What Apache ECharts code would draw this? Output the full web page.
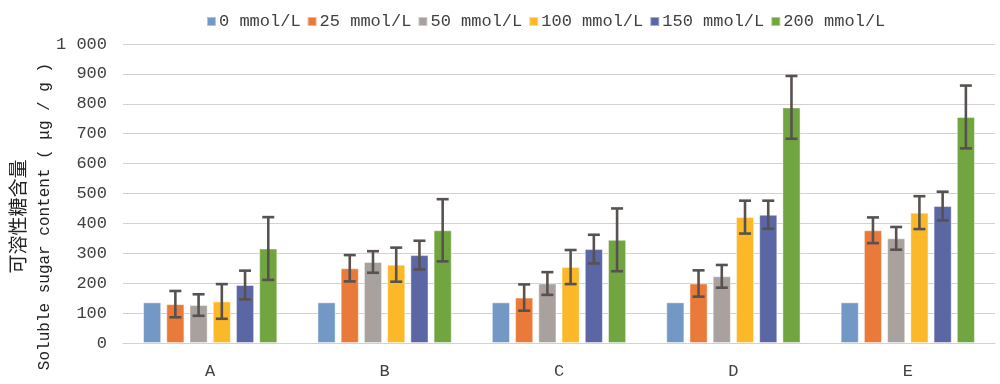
<!DOCTYPE html>
<html><head><meta charset="utf-8">
<script src="https://cdn.jsdelivr.net/npm/echarts@6/dist/echarts.min.js"></script>
<style>html,body{margin:0;padding:0;background:#fff}#c{width:1000px;height:384px}</style>
</head><body><div id="c"></div>
<script>
const categories = ['A','B','C','D','E'];
const seriesNames = ['0 mmol/L','25 mmol/L','50 mmol/L','100 mmol/L','150 mmol/L','200 mmol/L'];
const v0   = [136,136,136,136,136];
const v25  = [130,250,152,199,377];
const v50  = [127,271,199,223,350];
const v100 = [139,262,254,421,436];
const v150 = [194,294,314,429,458];
const v200 = [316,377,345,788,756];
const e0   = [null,null,null,null,null];
const e25  = [44,44,44,44,43];
const e50  = [36,36,38,38,38];
const e100 = [58,57,57,55,55];
const e150 = [48,48,48,47,48];
const e200 = [105,104,105,105,105];
const colors = ['#7398C6','#E97A3A','#A8A19E','#FBB829','#5B67A5','#71A540'];

const values = [v0,v25,v50,v100,v150,v200];
const errors = [e0,e25,e50,e100,e150,e200];
const CAT_GAP = 0.23, BAR_GAP = 0.28, N = 6;
const FONT = '"Liberation Mono", "Noto Sans CJK SC", monospace';

const chart = echarts.init(document.getElementById('c'));
const series = [];
values.forEach((vals, i) => {
  series.push({
    name: seriesNames[i], type: 'bar', data: vals,
    barGap: (BAR_GAP*100)+'%', barCategoryGap: (CAT_GAP*100)+'%',
    itemStyle: {color: colors[i], borderColor: 'rgba(255,255,255,0.45)', borderWidth: 1},
    emphasis: {disabled: true}, z: 2
  });
});
values.forEach((vals, i) => {
  if (i === 0) return;
  const data = vals.map((v, k) => [k, v - errors[i][k], v + errors[i][k]]);
  series.push({
    type: 'custom', name: seriesNames[i] + ' err', z: 5, silent: true,
    encode: {x: 0, y: [1, 2]},
    renderItem: function (params, api) {
      const k = api.value(0);
      const band = api.size([1, 0])[0];
      const bw = band * (1 - CAT_GAP) / (N + (N - 1) * BAR_GAP);
      const groupW = bw * N + bw * BAR_GAP * (N - 1);
      const off = -groupW / 2 + i * bw * (1 + BAR_GAP) + bw / 2;
      const lo = api.coord([k, api.value(1)]);
      const hi = api.coord([k, api.value(2)]);
      const x = lo[0] + off;
      const cap = 6;
      const st = {stroke: '#57524f', lineWidth: 2.6};
      return {type: 'group', children: [
        {type: 'line', shape: {x1: x, y1: lo[1], x2: x, y2: hi[1]}, style: st},
        {type: 'line', shape: {x1: x - cap, y1: lo[1], x2: x + cap, y2: lo[1]}, style: st},
        {type: 'line', shape: {x1: x - cap, y1: hi[1], x2: x + cap, y2: hi[1]}, style: st}
      ]};
    },
    data: data
  });
});

chart.setOption({
  animation: false,
  color: colors,
  legend: {
    data: seriesNames, top: 8, left: 201, itemWidth: 9, itemHeight: 9, itemGap: 6,
    icon: 'rect',
    textStyle: {fontFamily: FONT, fontSize: 17, color: '#404040', padding: [0,0,0,-2]}
  },
  grid: {left: 123, right: 5, top: 44, bottom: 41, containLabel: false, outerBoundsMode: 'none'},
  xAxis: {
    type: 'category', data: categories,
    axisLine: {lineStyle: {color: '#d6d0d0', width: 1}},
    axisTick: {show: false},
    axisLabel: {fontFamily: FONT, fontSize: 17, color: '#404040', margin: 20}
  },
  yAxis: {
    type: 'value', min: 0, max: 1000, interval: 100,
    name: '{cn|可溶性糖含量}\n{en|Soluble sugar content ( μg / g )}',
    nameLocation: 'middle', nameGap: 65, nameRotate: 90, nameMoveOverlap: false,
    nameTextStyle: {color: '#222', padding: [0, 46, 0, 0],
      rich: {
        cn: {fontFamily: '"Noto Sans CJK SC", sans-serif', fontSize: 19, lineHeight: 27, color: '#222'},
        en: {fontFamily: FONT, fontSize: 16, lineHeight: 27, color: '#222'}
      }},
    axisLine: {show: false}, axisTick: {show: false},
    splitLine: {lineStyle: {color: '#d6d0d0', width: 1}},
    axisLabel: {fontFamily: FONT, fontSize: 17, color: '#404040', margin: 16,
      formatter: v => v >= 1000 ? String(v).replace(/(\d)(\d{3})$/, '$1 $2') : String(v)}
  },
  series: series
});
</script></body></html>
